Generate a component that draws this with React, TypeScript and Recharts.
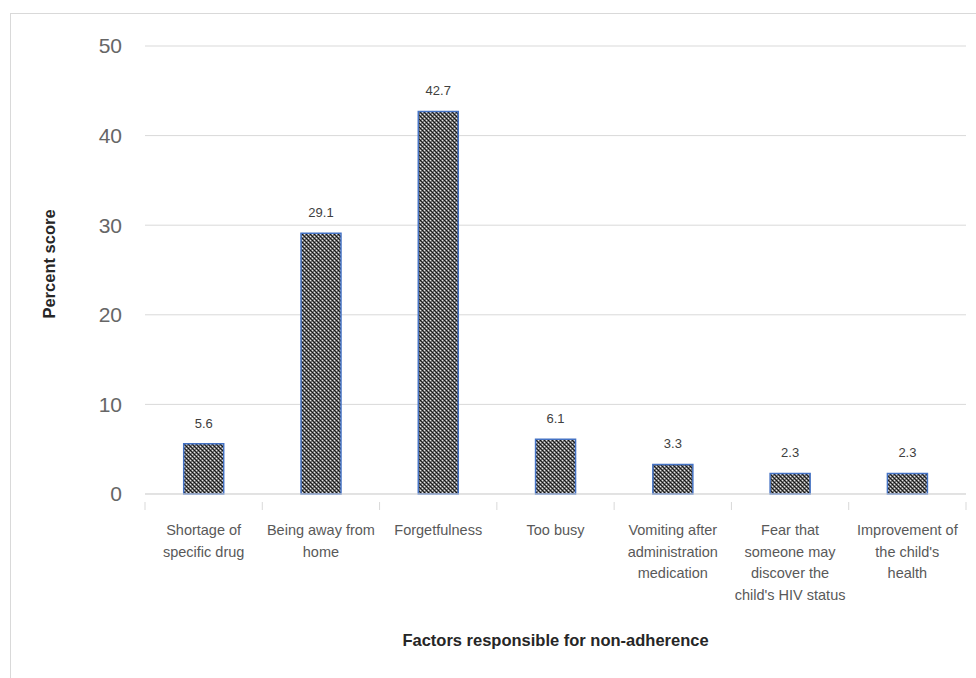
import { Bar, BarChart, CartesianGrid, LabelList, XAxis, YAxis } from "recharts"

const categories = [
    "Shortage of specific drug",
    "Being away from home",
    "Forgetfulness",
    "Too busy",
    "Vomiting after administration medication",
    "Fear that someone may discover the child's HIV status",
    "Improvement of the child's health",
]
const tickLines = [
    ["Shortage of", "specific drug"],
    ["Being away from", "home"],
    ["Forgetfulness"],
    ["Too busy"],
    ["Vomiting after", "administration", "medication"],
    ["Fear that", "someone may", "discover the", "child's HIV status"],
    ["Improvement of", "the child's", "health"],
]
const percents = [5.6, 29.1, 42.7, 6.1, 3.3, 2.3, 2.3]
const yTicks = [0, 10, 20, 30, 40, 50]

const data = categories.map((name, i) => ({ name, value: percents[i], idx: i }))

const FONT = "'Liberation Sans', Arial, sans-serif"
const W = 976
const H = 678
const LEFT = 145
const RIGHT = 10
const band = (W - LEFT - RIGHT) / categories.length

function CategoryTick(props: any) {
    const { x, y, index } = props
    const lines = tickLines[index] || []
    return (
        <g>
            <line x1={x - band / 2} x2={x - band / 2} y1={y} y2={y + 8} stroke="#d9d9d9" />
            {index === categories.length - 1 &&
                <line x1={x + band / 2} x2={x + band / 2} y1={y} y2={y + 8} stroke="#d9d9d9" />}
            {lines.map((l, k) =>
                <text key={k} x={x} y={y + 33 + k * 21.5} textAnchor="middle" fontSize={14.5} fill="#595959" fontFamily={FONT}>{l}</text>
            )}
        </g>
    )
}

export default function App() {
    return (
        <div style={{ position: 'absolute', left: 0, top: 0, width: W, height: H, background: '#fff', overflow: 'hidden' }}>
            <svg width={0} height={0} style={{ position: 'absolute' }}>
                <defs>
                    <pattern id="dots" width={4} height={4} patternUnits="userSpaceOnUse">
                        <rect width={4} height={4} fill="#6e6e6e" />
                        <rect x={0} y={0} width={1} height={1} fill="#111" />
                        <rect x={2} y={2} width={1} height={1} fill="#111" />
                        <rect x={2} y={0} width={1} height={1} fill="#e6e6e6" />
                        <rect x={0} y={2} width={1} height={1} fill="#e6e6e6" />
                        <rect x={1} y={1} width={1} height={1} fill="#222" />
                        <rect x={3} y={3} width={1} height={1} fill="#222" />
                    </pattern>
                </defs>
            </svg>
            <div style={{ position: 'absolute', left: 10, top: 13, width: W, height: H, borderTop: '1.5px solid #d9d9d9', borderLeft: '1.5px solid #d9d9d9' }} />
            <div style={{ position: 'absolute', left: 0, top: 0 }}>
                <BarChart width={W} height={H} data={data} margin={{ top: 46, right: RIGHT, bottom: 24, left: 0 }} barCategoryGap="33%">
                    <CartesianGrid vertical={false} stroke="#d9d9d9" />
                    <XAxis dataKey="name" height={160} interval={0} stroke="#d9d9d9" tickLine={false} tick={<CategoryTick />}
                        label={{
                            content: (p: any) => {
                                const vb = p.viewBox
                                return <text x={vb.x + vb.width / 2} y={vb.y + 152} textAnchor="middle" fontSize={16.5} fontWeight="bold" fill="#262626" fontFamily={FONT}>Factors responsible for non-adherence</text>
                            }
                        }} />
                    <YAxis width={LEFT} domain={[0, 50]} ticks={yTicks} axisLine={false} tickLine={false} tickSize={0} tickMargin={23}
                        tick={{ fontSize: 21, fill: '#666666', fontFamily: FONT }}
                        label={{
                            content: (p: any) => {
                                const vb = p.viewBox
                                const cx = 51
                                const cy = vb.y + vb.height / 2 - 6
                                return <text x={cx} y={cy} transform={`rotate(-90 ${cx} ${cy})`} textAnchor="middle" dominantBaseline="middle" fontSize={16.5} fontWeight="bold" fill="#262626" fontFamily={FONT}>Percent score</text>
                            }
                        }} />
                    <Bar dataKey="value" fill="url(#dots)" stroke="#4472c4" strokeWidth={1.5} isAnimationActive={false}>
                        <LabelList dataKey="value" position="top" offset={16} fontSize={13} fill="#404040" fontFamily={FONT} formatter={(v: any) => Number(v).toFixed(1)} />
                    </Bar>
                </BarChart>
            </div>
        </div>
    )
}
